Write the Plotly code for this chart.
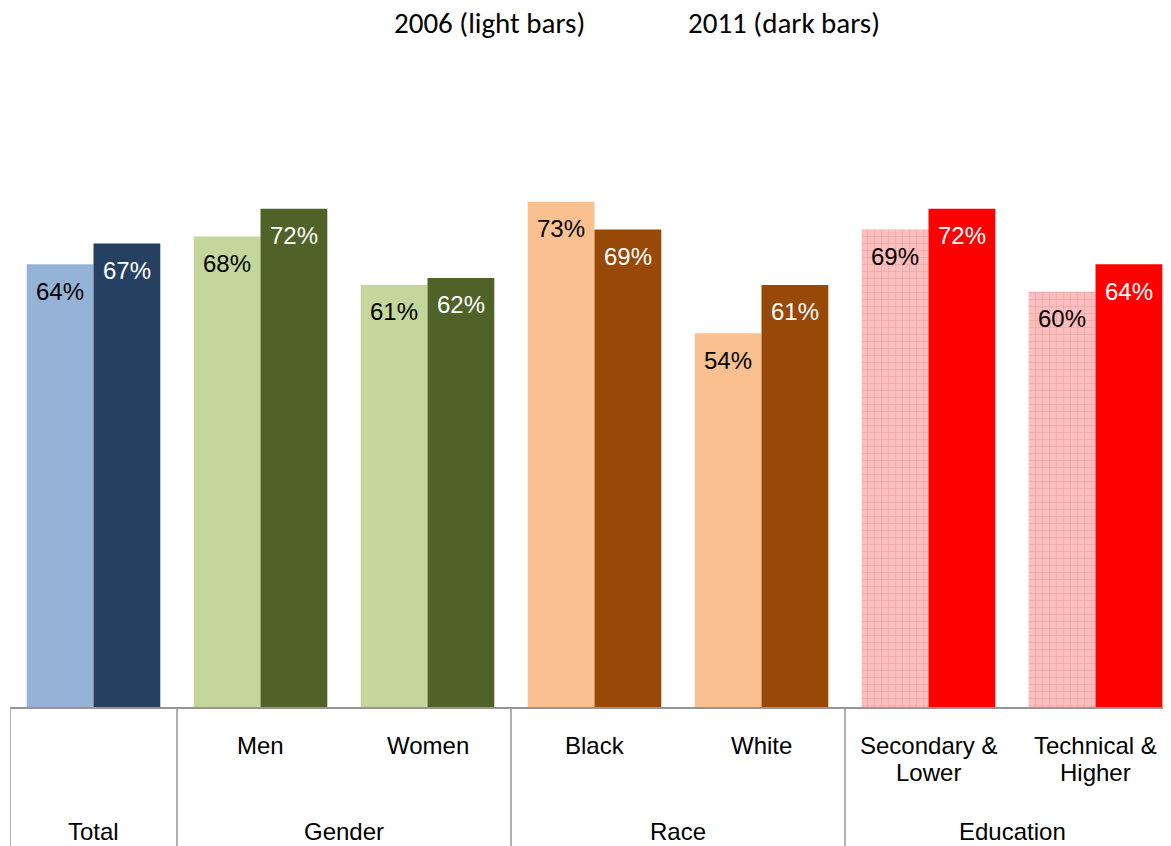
import plotly.graph_objects as go

# ---- data ----
categories = ["Total", "Men", "Women", "Black", "White",
              "Secondary & Lower", "Technical & Higher"]
sub_labels = ["", "Men", "Women", "Black", "White",
              "Secondary &\nLower", "Technical &\nHigher"]
group_labels = ["Total", "Gender", "Race", "Education"]
group_centers = [0, 1.5, 3.5, 5.5]
group_bounds = [-0.5, 0.5, 2.5, 4.5]
values_2006 = [0.64, 0.68, 0.61, 0.73, 0.54, 0.69, 0.60]
values_2011 = [0.67, 0.72, 0.62, 0.69, 0.61, 0.72, 0.64]
legend_texts = ["2006 (light bars)", "2011 (dark bars)"]

light_colors = ["#95B3D7", "#C3D69B", "#C3D69B", "#FAC090", "#FAC090", "#FFBDBD", "#FFBDBD"]
dark_colors = ["#254061", "#4F6228", "#4F6228", "#984807", "#984807", "#FF0000", "#FF0000"]
light_patterns = ["", "", "", "", "", "+", "+"]

FONT = "Liberation Sans, Arial, sans-serif"
LEG_FONT = "Carlito, Calibri, Lato, sans-serif"

fig = go.Figure()
fig.add_trace(go.Bar(
    x=categories, y=values_2006, name="2006",
    marker=dict(color=light_colors, line=dict(width=0),
                pattern=dict(shape=light_patterns, fillmode="overlay",
                             fgcolor="white", fgopacity=0.2, size=7, solidity=0.15)),
    hoverinfo="skip",
))
fig.add_trace(go.Bar(
    x=categories, y=values_2011, name="2011",
    marker=dict(color=dark_colors, line=dict(width=0)),
    hoverinfo="skip",
))

annotations = []
# value labels inside the bars
for cat, v in zip(categories, values_2006):
    annotations.append(dict(x=cat, y=v, xref="x", yref="y", xshift=-33.4, yshift=-27,
                            text=f"{round(v*100)}%", showarrow=False,
                            font=dict(family=FONT, size=24, color="black"),
                            xanchor="center", yanchor="middle"))
for cat, v in zip(categories, values_2011):
    annotations.append(dict(x=cat, y=v, xref="x", yref="y", xshift=33.4, yshift=-27,
                            text=f"{round(v*100)}%", showarrow=False,
                            font=dict(family=FONT, size=24, color="white"),
                            xanchor="center", yanchor="middle"))
# sub-category labels (one annotation per line)
for cat, lab in zip(categories, sub_labels):
    if lab:
        for i, line in enumerate(lab.split("\n")):
            annotations.append(dict(x=cat, y=0, xref="x", yref="y", yshift=-38 - 27 * i,
                                    text=line, showarrow=False,
                                    font=dict(family=FONT, size=24, color="black"),
                                    xanchor="center", yanchor="middle"))
# group labels
for gx, lab in zip(group_centers, group_labels):
    annotations.append(dict(x=gx, y=0, xref="x", yref="y", yshift=-124,
                            text=lab, showarrow=False,
                            font=dict(family=FONT, size=24, color="black"),
                            xanchor="center", yanchor="middle"))
# top "legend" texts
for lx, lab in zip([0.4126, 0.667], legend_texts):
    annotations.append(dict(x=lx, y=1.1269, xref="paper", yref="paper",
                            text=lab, showarrow=False,
                            font=dict(family=LEG_FONT, size=29, color="black"),
                            xanchor="center", yanchor="middle"))

shapes = []
for b in group_bounds:
    shapes.append(dict(type="line", xref="x", yref="paper", x0=b, x1=b,
                       y0=0, y1=-0.25, line=dict(color="#969696", width=1.5)))

fig.update_layout(
    width=1163, height=838,
    margin=dict(l=2, r=0, t=92, b=139),
    paper_bgcolor="white", plot_bgcolor="white",
    barmode="group", bargap=0.2, bargroupgap=0,
    showlegend=False,
    annotations=annotations, shapes=shapes,
    xaxis=dict(range=[-0.5, 6.452], showticklabels=False, ticks="",
               showgrid=False, zeroline=False, showline=True,
               linecolor="#969696", linewidth=1.5, fixedrange=True),
    yaxis=dict(range=[0, 0.8772], visible=False, showgrid=False,
               zeroline=False, fixedrange=True),
)

fig.write_html("out.html", config={"displayModeBar": False})
